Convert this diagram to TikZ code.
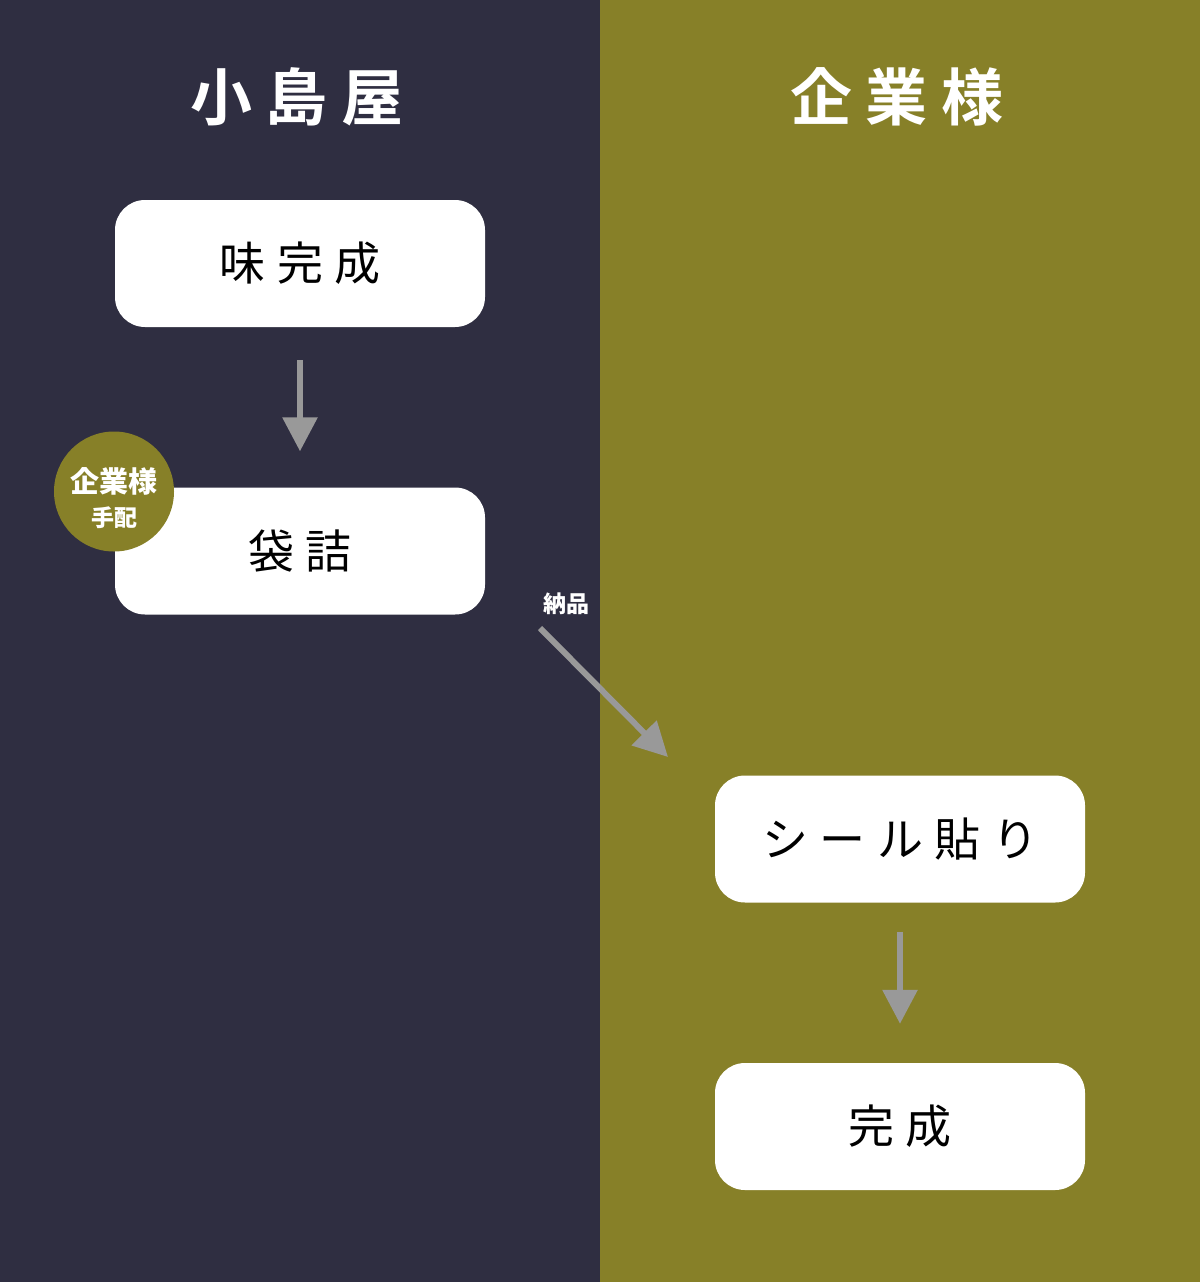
\documentclass[tikz,border=0pt]{standalone}
\usepackage{fontspec}
\setmainfont{Noto Sans CJK JP}
\newfontfamily\boxfont[LetterSpace=25]{Noto Sans CJK JP}
\newfontfamily\titlefont[LetterSpace=22]{Noto Sans CJK JP Bold}
\usetikzlibrary{arrows.meta}
\definecolor{navy}{RGB}{47,46,65}
\definecolor{olive}{RGB}{135,128,40}
\definecolor{arrowgray}{RGB}{153,153,153}

\begin{document}
\begin{tikzpicture}[x=1pt,y=-1pt,
							stepbox/.style={rectangle, rounded corners=30pt, fill=white, minimum width=370pt, minimum height=127pt, inner sep=0pt, font=\boxfont\fontsize{46}{46}\selectfont, text=black},
							title/.style={text=white, font=\titlefont\fontsize{62}{62}\selectfont},
							badge/.style={circle, fill=olive, minimum size=120pt, inner sep=0pt},
							badgetext/.style={text=white, align=center, font=\bfseries\fontsize{29}{34}\selectfont},
							flow/.style={draw=arrowgray, line width=6pt, -{Triangle[length=34pt,width=34pt]}},
							]
							\useasboundingbox (0,0) rectangle (1200,1282);
							%Panels
							\fill[navy] (0,0) rectangle (600,1282);
							\fill[olive] (600,0) rectangle (1200,1282);
							%Nodes
							\node[title]          (kojimaya)  at  (297,97)        {小島屋};
							\node[title]          (kigyou)    at  (897,97)        {企業様};
							\node[stepbox]        (aji)       at  (300,263.5)     {味完成};
							\node[stepbox]        (fukuro)    at  (300,551)       {袋詰};
							\node[badge]          (tehai)     at  (114,491.5)     {};
							\node[badgetext]      (tehaitext) at  (114,498)       {企業様\\{\fontsize{23}{24}\selectfont 手配}};
							\node[stepbox]        (seal)      at  (900,839)       {シール貼り};
							\node[stepbox]        (kansei)    at  (900,1126.5)    {完成};
							\coordinate           (ship0)     at  (540,628);
							\coordinate           (ship1)     at  (668,757);
							\node[text=white, font=\bfseries\fontsize{23}{23}\selectfont] (nouhin) at (566,604) {納品};
							%Lines
							\draw[flow, shorten <=33pt, shorten >=36pt] (aji.south) -- (fukuro.north);
							\draw[flow] (ship0) -- (ship1);
							\draw[flow, shorten <=29pt, shorten >=39pt] (seal.south) -- (kansei.north);
						\end{tikzpicture}
\end{document}
